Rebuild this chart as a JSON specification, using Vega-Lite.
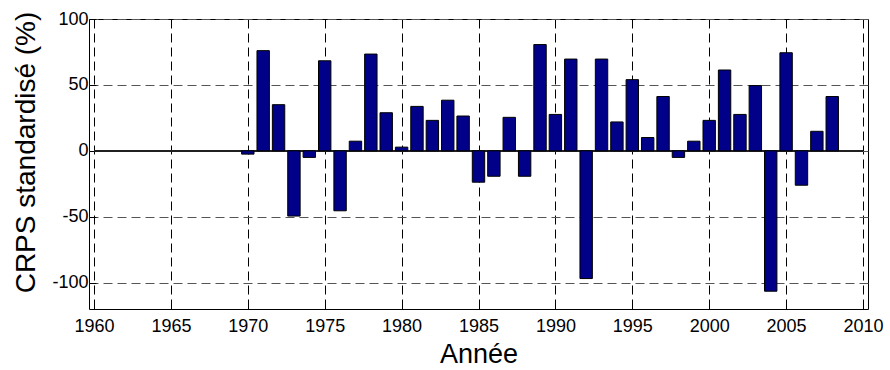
{
  "$schema": "https://vega.github.io/schema/vega-lite/v6.json",
  "autosize": {"type": "none"},
  "width": 779,
  "height": 290,
  "padding": {"left": 89, "top": 19, "right": 22, "bottom": 61},
  "background": "white",
  "config": {
    "view": {"stroke": "black", "strokeWidth": 1},
    "font": "Liberation Sans, Arial, sans-serif",
    "axis": {
      "labelFont": "Liberation Sans, Arial, sans-serif",
      "labelColor": "black",
      "titleFont": "Liberation Sans, Arial, sans-serif",
      "titleFontWeight": "normal",
      "titleColor": "black",
      "domain": false,
      "tickColor": "black",
      "tickSize": -7,
      "labelExpr": "toString(datum.value)"
    }
  },
  "data": {
    "values": [
      {"annee": 1970, "crps": -2.5},
      {"annee": 1971, "crps": 76},
      {"annee": 1972, "crps": 35},
      {"annee": 1973, "crps": -49.5},
      {"annee": 1974, "crps": -5},
      {"annee": 1975, "crps": 68.3},
      {"annee": 1976, "crps": -45.5},
      {"annee": 1977, "crps": 7.3},
      {"annee": 1978, "crps": 73.4},
      {"annee": 1979, "crps": 28.9},
      {"annee": 1980, "crps": 2.8},
      {"annee": 1981, "crps": 33.7},
      {"annee": 1982, "crps": 23.1},
      {"annee": 1983, "crps": 38.4},
      {"annee": 1984, "crps": 26.4},
      {"annee": 1985, "crps": -23.8},
      {"annee": 1986, "crps": -19.3},
      {"annee": 1987, "crps": 25.4},
      {"annee": 1988, "crps": -19.3},
      {"annee": 1989, "crps": 80.6},
      {"annee": 1990, "crps": 27.6},
      {"annee": 1991, "crps": 69.6},
      {"annee": 1992, "crps": -96.9},
      {"annee": 1993, "crps": 69.6},
      {"annee": 1994, "crps": 21.9},
      {"annee": 1995, "crps": 54},
      {"annee": 1996, "crps": 10.1},
      {"annee": 1997, "crps": 41.2},
      {"annee": 1998, "crps": -5},
      {"annee": 1999, "crps": 7.3},
      {"annee": 2000, "crps": 23.1},
      {"annee": 2001, "crps": 61.3},
      {"annee": 2002, "crps": 27.6},
      {"annee": 2003, "crps": 49.5},
      {"annee": 2004, "crps": -106.5},
      {"annee": 2005, "crps": 74.4},
      {"annee": 2006, "crps": -26.1},
      {"annee": 2007, "crps": 14.8},
      {"annee": 2008, "crps": 41.2}
    ]
  },
  "encoding": {
    "x": {
      "field": "annee",
      "type": "quantitative",
      "scale": {"domain": [1960, 2010], "nice": false, "zero": false},
      "axis": {
        "title": "Année",
        "titleFontSize": 27,
        "titleBaseline": "alphabetic",
        "titleY": 53,
        "values": [1960, 1965, 1970, 1975, 1980, 1985, 1990, 1995, 2000, 2005, 2010],
        "grid": true,
        "gridColor": "black",
        "gridOpacity": 1,
        "gridDash": [9, 5],
        "gridWidth": 1,
        "labelFontSize": 18,
        "labelPadding": 15,
        "labelFlush": false
      }
    },
    "y": {
      "field": "crps",
      "type": "quantitative",
      "scale": {"domain": [-120, 100], "nice": false, "zero": false},
      "axis": {
        "title": "CRPS standardisé (%)",
        "titleFontSize": 28,
        "titleAngle": -90,
        "titleAlign": "center",
        "titleBaseline": "alphabetic",
        "titleX": -55,
        "titleY": 133,
        "values": [-100, -50, 0, 50, 100],
        "grid": true,
        "gridColor": "#555555",
        "gridOpacity": 1,
        "gridDash": [9, 5],
        "gridWidth": 1,
        "labelFontSize": 18,
        "labelPadding": 8,
        "labelFlush": false
      }
    }
  },
  "layer": [
    {
      "mark": {"type": "rule", "color": "#222222", "strokeWidth": 1},
      "encoding": {
        "x": {"datum": 1960},
        "x2": {"datum": 2010},
        "y": {"datum": 0}
      }
    },
    {
      "mark": {"type": "bar", "width": 12.4, "color": "#000088", "stroke": "black", "strokeWidth": 1}
    }
  ]
}
